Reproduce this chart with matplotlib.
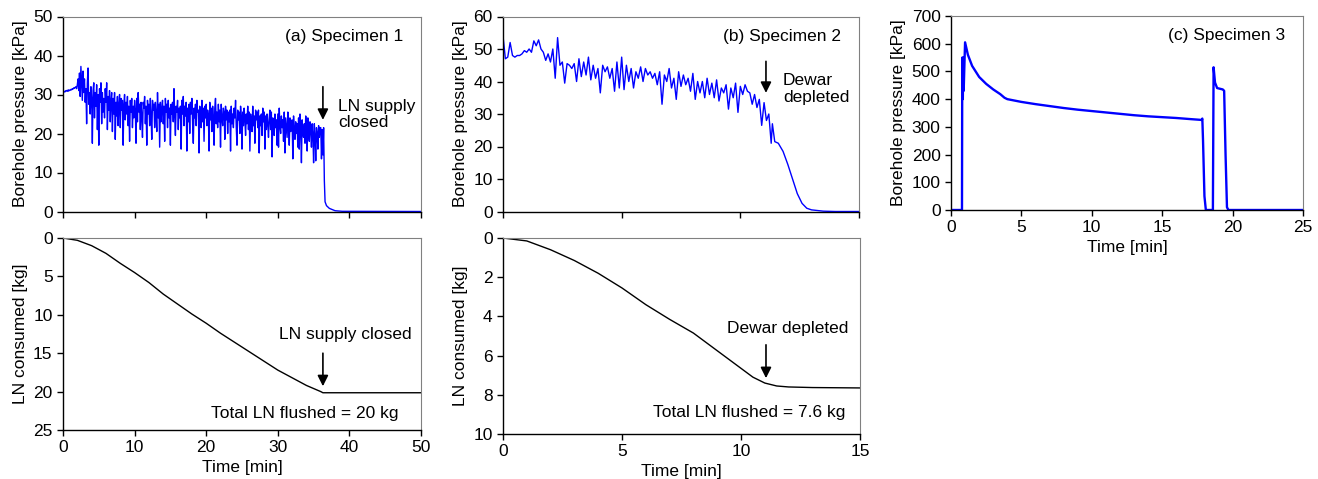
import numpy as np
import matplotlib.pyplot as plt

plt.rcParams['font.family'] = ['Liberation Sans', 'DejaVu Sans']
plt.rcParams['font.size'] = 12.5

# ------ datos: presion en perforacion, especimen 1 (cada 0.1 min, 0 a 36.4) ------
p1_noisy = [
    30.5, 30.6, 30.8, 30.7, 31.0, 30.9, 31.1, 30.8, 31.2, 31.0,
    31.1, 31.3, 31.2, 31.5, 31.4, 31.7, 31.6, 31.8, 32.0, 31.5,
    32.5, 34.0, 31.0, 35.5, 29.5, 37.2, 33.0, 28.5, 36.0, 30.5,
    34.0, 28.0, 31.5, 22.5, 33.0, 36.8, 27.5, 30.5, 25.0, 32.0,
    29.0, 17.5, 31.0, 33.0, 24.0, 30.5, 27.0, 32.5, 21.0, 30.0,
    17.0, 31.5, 28.0, 33.0, 22.5, 30.5, 25.5, 29.0, 24.0, 31.5,
    28.0, 33.0, 21.0, 29.5, 26.0, 31.0, 23.0, 28.5, 30.5, 20.5,
    29.0, 25.0, 30.5, 18.5, 28.0, 24.5, 29.5, 22.0, 27.5, 30.0,
    21.5, 29.0, 26.0, 28.5, 17.0, 27.5, 30.0, 23.5, 28.0, 25.0,
    29.5, 22.0, 27.0, 18.0, 28.5, 25.5, 29.0, 21.5, 27.0, 24.0,
    28.5, 26.0, 17.5, 29.0, 23.0, 30.5, 25.5, 27.5, 21.0, 28.0,
    24.5, 19.0, 28.0, 26.5, 29.5, 22.5, 27.0, 17.0, 28.5, 25.0,
    27.5, 22.0, 29.0, 24.5, 18.5, 28.5, 26.0, 27.5, 21.5, 28.0,
    25.0, 20.5, 30.5, 24.0, 27.5, 16.5, 28.0, 23.0, 26.5, 28.5,
    22.5, 27.0, 18.0, 29.0, 25.5, 27.5, 21.5, 28.5, 24.0, 26.5,
    17.0, 27.5, 25.0, 28.0, 23.0, 31.5, 24.5, 19.5, 27.0, 25.5,
    28.5, 21.0, 26.5, 24.0, 27.0, 16.0, 28.5, 25.0, 29.5, 22.0,
    27.0, 24.5, 28.0, 15.5, 26.5, 23.0, 27.5, 20.0, 28.0, 25.0,
    29.0, 22.5, 17.5, 26.5, 24.0, 27.5, 22.0, 28.5, 25.5, 26.0,
    15.0, 27.0, 24.5, 21.5, 28.5, 23.0, 26.5, 18.0, 27.0, 24.0,
    27.5, 22.0, 26.0, 24.5, 15.5, 28.0, 23.5, 26.5, 20.5, 27.0,
    24.0, 17.0, 26.5, 29.0, 22.5, 25.5, 21.5, 27.5, 23.0, 26.0,
    16.5, 27.5, 24.0, 22.0, 26.5, 25.5, 18.5, 27.0, 23.5, 26.0,
    20.0, 25.5, 23.0, 26.0, 15.5, 27.0, 22.5, 25.0, 21.5, 26.5,
    24.0, 28.5, 21.5, 17.0, 26.0, 23.5, 25.5, 20.0, 27.0, 24.5,
    16.0, 25.5, 22.0, 26.5, 23.5, 19.5, 25.0, 22.5, 27.0, 21.0,
    25.5, 15.5, 25.0, 23.0, 20.5, 27.0, 22.0, 24.5, 17.5, 26.0,
    23.5, 25.5, 21.5, 26.0, 15.0, 24.5, 22.0, 25.0, 19.5, 26.5,
    23.0, 25.5, 16.0, 24.5, 21.0, 25.0, 22.5, 19.0, 24.0, 26.0,
    21.0, 25.5, 14.0, 24.0, 22.5, 19.5, 25.0, 21.5, 23.5, 17.0,
    25.0, 16.5, 26.5, 22.0, 20.0, 24.5, 21.5, 23.5, 18.0, 25.5,
    15.0, 24.0, 21.5, 19.0, 25.5, 22.0, 17.0, 24.0, 20.5, 23.0,
    23.5, 13.5, 24.5, 21.0, 18.5, 23.0, 20.0, 22.5, 16.5, 24.0,
    16.0, 25.0, 21.5, 12.5, 23.5, 20.0, 19.0, 22.5, 17.5, 24.5,
    22.5, 15.5, 24.0, 20.5, 18.0, 23.0, 21.0, 16.5, 22.5, 20.0,
    12.5, 22.5, 19.5, 13.0, 21.5, 20.0, 16.0, 22.0, 19.0, 21.5,
    21.5, 13.5, 21.0, 14.5, 21.5,
]
t1_tail = [36.5, 36.6, 36.8, 37.2, 38.0, 39.0, 50.0]
p1_tail = [8.0, 2.5, 1.5, 0.8, 0.2, 0.05, 0.0]

# ------ especimen 2 (cada 0.1 min, 0 a 11.0) ------
p2_noisy = [
    54.0, 47.0, 47.5, 52.0, 48.0, 47.5, 48.0, 48.0, 48.5, 49.5,
    49.0, 50.0, 49.0, 52.5, 51.0, 52.8, 50.0, 49.0, 46.5, 48.5,
    46.0, 50.0, 41.0, 53.5, 45.0, 46.0, 39.5, 45.5, 45.0, 44.0,
    45.5, 40.0, 47.0, 41.5, 46.0, 42.0, 47.5, 40.5, 45.0, 41.0,
    44.0, 36.5, 45.0, 43.0, 44.5, 41.0, 44.0, 37.0, 46.0, 38.0,
    47.5, 37.5, 45.0, 40.0, 44.0, 38.0, 43.0, 41.0, 44.5, 40.0,
    44.0, 42.0, 43.0, 41.0, 42.5, 39.0, 43.0, 33.0, 42.0, 40.0,
    44.0, 38.0, 41.0, 34.5, 43.0, 38.5, 42.0, 39.0, 41.0, 37.0,
    42.5, 34.5, 40.0, 36.5, 40.0, 35.0, 41.0, 36.0, 39.5, 35.0,
    40.5, 34.0, 38.0, 36.5, 39.0, 31.5, 38.0, 35.0, 39.5, 30.5,
    38.5, 36.0, 39.0, 37.0, 36.5, 33.0, 36.0, 32.0, 34.5, 26.5,
    33.5,
]
t2_tail = [11.1, 11.2, 11.3, 11.35, 11.45, 11.6, 11.8, 12.0, 12.2, 12.4,
           12.6, 12.8, 13.0, 13.5, 14.0, 15.0]
p2_tail = [28.0, 30.0, 21.0, 27.0, 21.5, 21.0, 18.5, 14.5, 10.0, 5.5,
           2.5, 1.0, 0.5, 0.1, 0.0, 0.0]

# ------ especimen 3 ------
t3 = [0.0, 0.78, 0.8, 0.84, 0.87, 0.9, 0.95, 1.0, 1.2, 1.5, 2.0, 2.5, 3.0,
      3.5, 3.8, 4.0, 5.0, 6.0, 7.0, 8.0, 9.0, 10.0, 11.0, 12.0, 13.0, 14.0,
      15.0, 16.0, 17.0, 17.8, 17.85, 17.9, 18.0, 18.1, 18.6, 18.65, 18.75,
      18.9, 19.3, 19.4, 19.5, 19.6, 19.7, 25.0]
p3 = [0, 0, 550, 400, 550, 430, 520, 605, 560, 520, 480, 455, 435,
      418, 405, 400, 390, 382, 375, 368, 362, 357, 352, 347, 342, 338,
      335, 332, 328, 325, 330, 250, 50, 0, 0, 515, 460,
      440, 435, 430, 200, 10, 0, 0]

# ------ LN consumido ------
t_ln1 = [0, 2, 4, 6, 8, 10, 12, 14, 16, 18, 20, 22, 24, 26, 28, 30, 32, 34,
         36, 36.3, 40, 50]
ln1 = [0, 0.3, 1.0, 2.0, 3.3, 4.5, 5.8, 7.3, 8.6, 9.9, 11.1, 12.4, 13.6,
       14.8, 16.0, 17.2, 18.2, 19.2, 20.0, 20.15, 20.15, 20.15]
t_ln2 = [0, 1, 2, 3, 4, 5, 6, 7, 8, 9, 10, 10.5, 11, 11.5, 12, 13, 15]
ln2 = [0, 0.15, 0.6, 1.15, 1.8, 2.55, 3.4, 4.15, 4.85, 5.75, 6.65, 7.1,
       7.4, 7.55, 7.6, 7.63, 7.65]

t1 = [0.0] + list(np.arange(len(p1_noisy)) * 0.1) + t1_tail
p1 = [0.0] + p1_noisy + p1_tail
t2 = [0.0] + list(np.arange(len(p2_noisy)) * 0.1) + t2_tail
p2 = [0.0] + p2_noisy + p2_tail

W, H = 1318, 479
fig = plt.figure(figsize=(W / 100, H / 100), dpi=100)


def mk(l, r, t, b):
    return fig.add_axes([l / W, 1 - b / H, (r - l) / W, (b - t) / H])


def estilo(ax):
    for s in ['top', 'right']:
        ax.spines[s].set_color('#808080')
        ax.spines[s].set_linewidth(0.8)
    for s in ['left', 'bottom']:
        ax.spines[s].set_linewidth(1.0)
    ax.tick_params(direction='out', length=4, width=1, top=False, right=False)


flecha = dict(arrowstyle='-|>', color='k', lw=1.2, mutation_scale=16,
              shrinkA=0, shrinkB=0)

# (a) presion
ax = mk(63, 421, 16.5, 211.5)
ax.plot(t1, p1, color='#0000ff', lw=1)
ax.set_xlim(0, 50)
ax.set_ylim(0, 50)
ax.set_xticks(range(0, 51, 10))
ax.set_xticklabels([])
ax.set_yticks(range(0, 51, 10))
ax.set_ylabel('Borehole pressure [kPa]')
ax.text(0.95, 0.9, '(a) Specimen 1', transform=ax.transAxes, ha='right', va='center')
ax.annotate('', xy=(36.3, 23.5), xytext=(36.3, 32.0), arrowprops=flecha)
ax.text(38.4, 24.8, 'LN supply\nclosed', ha='left', va='center', linespacing=1.1)
estilo(ax)

# (b) presion
ax = mk(503, 859, 16.5, 211.5)
ax.plot(t2, p2, color='#0000ff', lw=1)
ax.set_xlim(0, 15)
ax.set_ylim(0, 60)
ax.set_xticks([0, 5, 10, 15])
ax.set_xticklabels([])
ax.set_yticks(range(0, 61, 10))
ax.set_ylabel('Borehole pressure [kPa]')
ax.text(0.95, 0.9, '(b) Specimen 2', transform=ax.transAxes, ha='right', va='center')
ax.annotate('', xy=(11.08, 36.5), xytext=(11.08, 46.2), arrowprops=flecha)
ax.text(11.8, 37.7, 'Dewar\ndepleted', ha='left', va='center', linespacing=1.1)
estilo(ax)

# (c) presion
ax = mk(951, 1303, 16, 210)
ax.plot(t3, p3, color='#0000ff', lw=1.7)
ax.set_xlim(0, 25)
ax.set_ylim(0, 700)
ax.set_xticks(range(0, 26, 5))
ax.set_yticks(range(0, 701, 100))
ax.set_xlabel('Time [min]', labelpad=3)
ax.set_ylabel('Borehole pressure [kPa]')
ax.text(0.95, 0.9, '(c) Specimen 3', transform=ax.transAxes, ha='right', va='center')
estilo(ax)

# (a) LN consumido
ax = mk(63, 421, 238, 430)
ax.plot(t_ln1, ln1, color='k', lw=1)
ax.set_xlim(0, 50)
ax.set_ylim(25, 0)
ax.set_xticks(range(0, 51, 10))
ax.set_yticks(range(0, 26, 5))
ax.set_xlabel('Time [min]', labelpad=3)
ax.set_ylabel('LN consumed [kg]')
ax.text(39.4, 12.6, 'LN supply closed', ha='center', va='center')
ax.annotate('', xy=(36.3, 19.3), xytext=(36.3, 15.0), arrowprops=flecha)
ax.text(46.9, 22.8, 'Total LN flushed = 20 kg', ha='right', va='center')
estilo(ax)

# (b) LN consumido
ax = mk(503, 860, 238, 434)
ax.plot(t_ln2, ln2, color='k', lw=1)
ax.set_xlim(0, 15)
ax.set_ylim(10, 0)
ax.set_xticks([0, 5, 10, 15])
ax.set_yticks(range(0, 11, 2))
ax.set_xlabel('Time [min]', labelpad=3)
ax.set_ylabel('LN consumed [kg]')
ax.text(11.97, 4.6, 'Dewar depleted', ha='center', va='center')
ax.annotate('', xy=(11.05, 7.15), xytext=(11.05, 5.45), arrowprops=flecha)
ax.text(14.37, 8.88, 'Total LN flushed = 7.6 kg', ha='right', va='center')
estilo(ax)

fig.savefig('out.png', dpi=100)
